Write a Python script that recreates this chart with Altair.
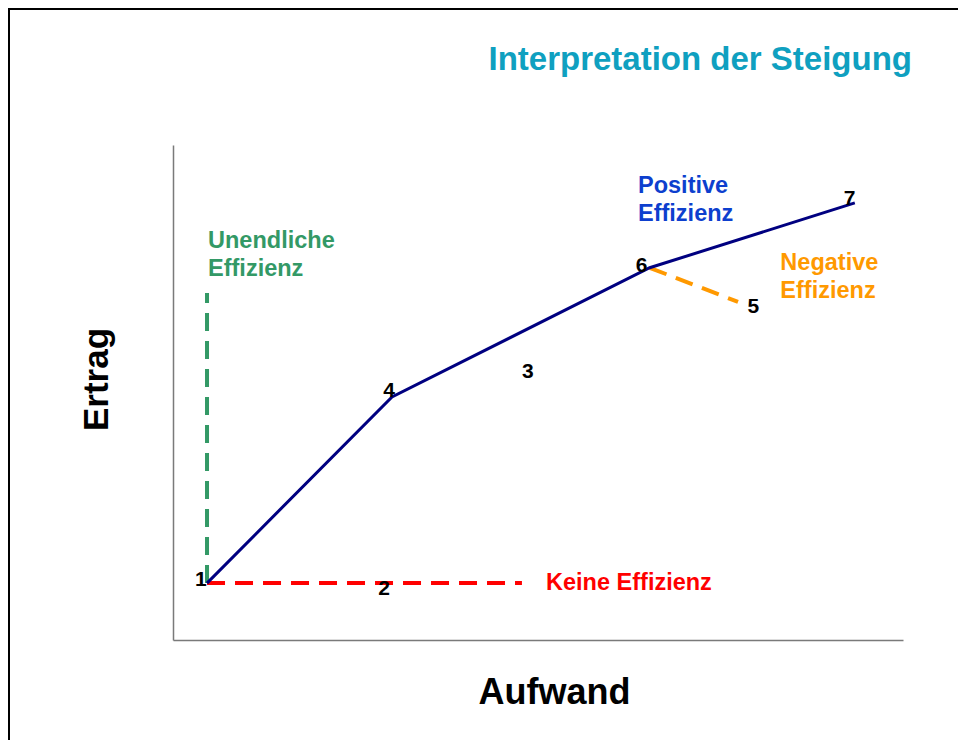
import altair as alt
import pandas as pd

# ---- data ----
label_text = ["1", "2", "3", "4", "5", "6", "7"]
label_aufwand = [3.8, 28.9, 48.6, 29.6, 79.5, 64.2, 92.7]
label_ertrag = [10.9, 9.1, 52.9, 49.1, 66.1, 74.3, 87.9]

pos_aufwand = [4.66, 30.0, 65.3, 93.4]
pos_ertrag = [11.5, 49.1, 75.2, 88.3]

seg_name = ["Keine", "Unendliche", "Negative"]
seg_x1 = [4.66, 4.66, 65.3]
seg_y1 = [11.5, 11.5, 75.2]
seg_x2 = [47.8, 4.66, 77.4]
seg_y2 = [11.5, 70.1, 68.3]
seg_color = ["#ff0000", "#339966", "#ff9900"]

note_text = ["Unendliche\nEffizienz", "Positive\nEffizienz", "Negative\nEffizienz", "Keine Effizienz"]
note_aufwand = [4.8, 63.7, 83.2, 51.1]
note_ertrag = [79.2, 90.3, 74.7, 10.1]
note_color = ["#339966", "#0d3fce", "#ff9900", "#ff0000"]

FONT = "Liberation Sans"

xs = alt.Scale(domain=[0, 100], nice=False, zero=False)
ys = alt.Scale(domain=[0, 100], nice=False, zero=False)

labels_df = pd.DataFrame({"t": label_text, "x": label_aufwand, "y": label_ertrag})
pos_df = pd.DataFrame({"x": pos_aufwand, "y": pos_ertrag, "i": list(range(len(pos_aufwand)))})
seg_df = pd.DataFrame({"n": seg_name, "x": seg_x1, "y": seg_y1, "x2": seg_x2, "y2": seg_y2, "c": seg_color})
note_df = pd.DataFrame({"t": note_text, "x": note_aufwand, "y": note_ertrag, "c": note_color})

base_x = alt.X("x:Q", scale=xs,
               axis=alt.Axis(title="Aufwand", labels=False, ticks=False, grid=False,
                             domainColor="#7a7a7a", domainWidth=1.5,
                             titleFont=FONT, titleFontSize=36, titleFontWeight="bold",
                             titleColor="black", titleX=381, titleY=63,
                             titleBaseline="alphabetic", titleAlign="center"))
base_y = alt.Y("y:Q", scale=ys,
               axis=alt.Axis(title="Ertrag", labels=False, ticks=False, grid=False,
                             domainColor="#7a7a7a", domainWidth=1.5,
                             titleFont=FONT, titleFontSize=35, titleFontWeight="bold",
                             titleColor="black", titleX=-66, titleY=234, titleAngle=270,
                             titleBaseline="alphabetic", titleAlign="center"))

main_line = alt.Chart(pos_df).mark_line(color="#000080", strokeWidth=3).encode(
    x=base_x, y=base_y, order="i:Q")

dashed = alt.Chart(seg_df).mark_rule(strokeWidth=4, strokeDash=[18, 10]).encode(
    x=alt.X("x:Q", scale=xs), y=alt.Y("y:Q", scale=ys),
    x2="x2:Q", y2="y2:Q", color=alt.Color("c:N", scale=None))

digits = alt.Chart(labels_df).mark_text(font=FONT, fontSize=21, fontWeight="bold",
                                        color="black", align="center",
                                        baseline="alphabetic").encode(
    x=alt.X("x:Q", scale=xs), y=alt.Y("y:Q", scale=ys), text="t:N")

notes = alt.Chart(note_df).mark_text(font=FONT, fontSize=23.5, fontWeight="bold",
                                     align="left", baseline="alphabetic",
                                     lineBreak="\n", lineHeight=28).encode(
    x=alt.X("x:Q", scale=xs), y=alt.Y("y:Q", scale=ys), text="t:N",
    color=alt.Color("c:N", scale=None))

frame_data = alt.Data(values=[{"k": 1}])
border_left = alt.Chart(frame_data).mark_rule(color="black", strokeWidth=2).encode(
    x=alt.value(-164), y=alt.value(-137), y2=alt.value(600))
border_top = alt.Chart(frame_data).mark_rule(color="black", strokeWidth=2).encode(
    x=alt.value(-165), x2=alt.value(800), y=alt.value(-136))

chart = alt.layer(border_left, border_top, dashed, main_line, digits, notes).properties(
    width=730, height=495,
    autosize=alt.AutoSizeParams(type="none"),
    padding={"left": 165, "top": 137, "right": 55, "bottom": 100},
    title=alt.TitleParams("Interpretation der Steigung", anchor="end", frame="group",
                          font=FONT, fontSize=33, fontWeight="bold", color="#0fa0c0",
                          baseline="alphabetic", offset=0, dx=9, dy=96),
).configure_view(stroke=None)

chart.save("out.html", embed_options={"renderer": "svg", "actions": False})
